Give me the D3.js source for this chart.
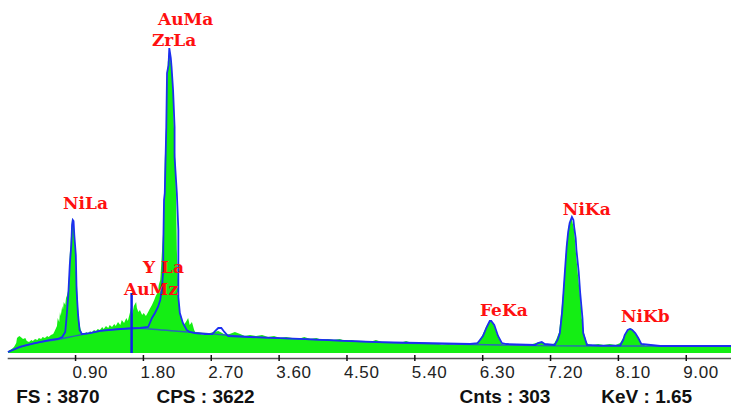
<!DOCTYPE html>
<html>
<head>
<meta charset="utf-8">
<script src="https://cdnjs.cloudflare.com/ajax/libs/d3/7.8.5/d3.min.js"></script>
<style>
  html, body { margin: 0; padding: 0; background: #fff; }
  svg { display: block; }
  .peak-label { font-family: "DejaVu Serif", serif; font-weight: bold; font-size: 17px; fill: #ff1010; white-space: pre; }
  .tick text { font-family: "Liberation Sans", Arial, sans-serif; font-size: 17px; fill: #222; letter-spacing: 0.6px; }
  .status { font-family: "Liberation Sans Narrow", "Liberation Sans", Arial, sans-serif; font-weight: bold; font-size: 19px; fill: #111; }
</style>
</head>
<body>
<svg id="eds" width="731" height="406"></svg>
<script>
/*** DATA ***/

// measured spectrum: energy (keV) and counts
let spec_kev = [0.01,0.02,0.06,0.09,0.12,0.13,0.16,0.18,0.21,0.24,0.26,0.29,0.32,0.34,0.37,0.40,0.42,0.45,0.47,0.50,
  0.53,0.55,0.58,0.61,0.63,0.66,0.67,0.69,0.70,0.71,0.73,0.74,0.75,0.77,0.78,0.79,0.81,0.82,0.83,0.85,
  0.86,0.87,0.89,0.90,0.91,0.93,0.94,0.95,0.97,0.99,1.02,1.05,1.07,1.10,1.12,1.15,1.18,1.20,1.23,1.26,
  1.28,1.31,1.34,1.36,1.39,1.42,1.44,1.47,1.50,1.52,1.55,1.58,1.60,1.63,1.64,1.66,1.68,1.71,1.72,1.74,
  1.76,1.79,1.81,1.84,1.87,1.89,1.92,1.95,1.97,2.00,2.01,2.03,2.04,2.05,2.07,2.08,2.09,2.11,2.12,2.13,
  2.15,2.16,2.17,2.19,2.20,2.21,2.23,2.24,2.25,2.27,2.28,2.29,2.32,2.34,2.37,2.40,2.42,2.45,2.48,2.50,
  2.56,2.62,2.69,2.74,2.80,2.85,2.90,2.95,3.02,3.09,3.15,3.22,3.30,3.38,3.46,3.54,3.62,3.70,3.78,3.86,
  3.94,4.02,4.10,4.18,4.25,4.33,4.41,4.49,4.57,4.65,4.73,4.81,4.89,4.97,5.05,5.13,5.21,5.29,5.37,5.45,
  5.53,5.61,5.69,5.77,5.85,5.93,6.01,6.09,6.16,6.22,6.27,6.31,6.35,6.38,6.40,6.43,6.46,6.48,6.51,6.54,
  6.56,6.62,6.70,6.77,6.85,6.93,7.01,7.07,7.12,7.17,7.22,7.26,7.29,7.32,7.34,7.37,7.40,7.42,7.45,7.48,
  7.49,7.52,7.54,7.57,7.60,7.62,7.65,7.68,7.70,7.76,7.84,7.91,7.99,8.07,8.13,8.17,8.21,8.25,8.27,8.30,
  8.34,8.38,8.42,8.47,8.55,8.66,8.79,8.92,9.06,9.19,9.32,9.45,9.60];
let spec_counts = [0,22,44,67,111,167,189,178,156,167,133,122,145,133,156,145,167,156,178,167,
  189,178,200,211,245,300,389,345,456,411,523,478,567,534,612,634,701,867,1090,1346,
  1501,1457,1346,1123,923,701,500,367,278,222,211,234,211,245,222,256,245,267,256,289,
  267,300,278,311,289,323,300,345,311,367,334,389,356,456,500,434,523,567,500,456,
  478,423,445,411,456,489,534,589,634,678,756,812,945,1090,1368,1701,2146,2591,2980,3236,
  3369,3347,3236,3091,2869,2535,2146,1701,1145,701,534,456,367,311,345,389,311,345,256,222,
  211,200,222,234,245,222,200,211,234,211,189,200,189,200,178,189,167,178,167,156,
  178,156,167,145,156,145,156,133,145,122,133,122,145,122,111,122,111,133,111,100,
  111,100,111,89,100,89,100,89,100,111,145,211,289,334,356,345,300,245,178,133,
  100,89,100,89,100,89,111,122,111,89,89,111,167,234,389,645,979,1223,1423,1490,
  1479,1368,1145,867,623,389,222,133,100,89,100,89,100,89,111,167,222,267,278,256,
  200,145,100,78,89,78,67,78,67,78,67,78,78];

// fitted spectrum (background + peaks)
let fit_kev = [0.01,0.17,0.37,0.57,0.67,0.73,0.77,0.79,0.81,0.83,0.85,0.86,0.87,0.88,0.89,0.91,0.92,0.94,0.96,0.99,
  1.10,1.23,1.50,1.76,1.87,1.92,1.96,2.00,2.03,2.05,2.07,2.07,2.08,2.09,2.11,2.12,2.14,2.15,2.17,2.18,
  2.20,2.22,2.22,2.25,2.27,2.27,2.29,2.33,2.38,2.42,2.49,2.62,2.72,2.76,2.80,2.84,2.88,2.93,3.22,3.88,
  4.55,4.94,5.47,6.14,6.24,6.31,6.36,6.40,6.42,6.46,6.51,6.56,6.62,7.00,7.04,7.09,7.13,7.26,7.30,7.33,
  7.36,7.38,7.40,7.42,7.44,7.46,7.49,7.51,7.52,7.54,7.55,7.58,7.60,7.63,7.64,7.69,7.86,8.13,8.17,8.19,
  8.23,8.26,8.29,8.33,8.37,8.41,8.66,9.60];
let fit_counts = [11,67,111,145,156,178,234,423,645,979,1201,1423,1479,1468,1312,1090,701,423,256,211,
  222,245,267,278,289,389,445,512,590,701,923,1179,1701,1779,2513,3113,3202,3391,3280,3180,
  2925,2513,2180,1779,1368,623,445,334,256,234,222,211,211,245,278,278,234,189,178,156,
  133,122,111,100,111,189,289,356,356,311,189,111,100,89,111,122,100,89,145,222,
  456,701,945,1179,1345,1446,1512,1479,1401,1279,1145,901,667,389,222,89,83,83,145,200,
  256,267,256,222,167,100,78,78];

// background curve
let bg_kev = [0.01,0.17,0.37,0.63,0.83,1.03,1.23,1.50,1.67,1.89,2.22,2.56,2.89,3.22,3.88,4.55,5.21,5.87,6.54,7.86,9.60];
let bg_counts = [11,67,111,145,178,211,245,267,278,267,245,222,200,178,156,133,111,100,89,78,78];

// cursor marker (KeV : 1.65)
let cursor_kev = 1.65,
    cursor_counts = 667;

// peak labels: name, energy and counts of the label anchor
let peak_names  = ["AuMa", "ZrLa", "NiLa", "Y La", "AuMz", "FeKa", "NiKa", "NiKb"];
let peak_kev    = [2.00, 1.92, 0.74, 1.80, 1.55, 6.27, 7.37, 8.14];
let peak_counts = [3647, 3414, 1601, 890, 645, 411, 1535, 345];

// axis ticks
let tick_values = [0.9, 1.8, 2.7, 3.6, 4.5, 5.4, 6.3, 7.2, 8.1, 9.0];

// status bar
let status_text = ["FS : 3870", "CPS : 3622", "Cnts : 303", "KeV : 1.65"];
let status_kev  = [0.12, 1.98, 6.0, 7.88];

/*** SCALES ***/

let svg = d3.select("#eds");

let x = d3.scaleLinear().domain([0, 9.6]).range([7.2, 731]),
    y = d3.scaleLinear().domain([0, 3870]).range([353, 5]);

let spec = spec_kev.map((k, i) => [k, spec_counts[i]]),
    fit  = fit_kev.map((k, i) => [k, fit_counts[i]]),
    bg   = bg_kev.map((k, i) => [k, bg_counts[i]]);

/*** DRAW ***/

// green spectrum
svg.append("path")
    .datum(spec)
    .attr("fill", "#14ee14")
    .attr("d", d3.area().x((d) => x(d[0])).y0(y(0)).y1((d) => y(d[1])));

// background
svg.append("path")
    .datum(bg)
    .attr("fill", "none")
    .attr("stroke", "#2a66b8")
    .attr("stroke-width", 1.4)
    .attr("d", d3.line().x((d) => x(d[0])).y((d) => y(d[1])).curve(d3.curveMonotoneX));

// fit line
svg.append("path")
    .datum(fit)
    .attr("fill", "none")
    .attr("stroke", "#1c2ff0")
    .attr("stroke-width", 1.8)
    .attr("d", d3.line().x((d) => x(d[0])).y((d) => y(d[1])));

// cursor
svg.append("line")
    .attr("x1", x(cursor_kev)).attr("x2", x(cursor_kev))
    .attr("y1", y(0)).attr("y2", y(cursor_counts))
    .attr("stroke", "#1020e8")
    .attr("stroke-width", 2.5);

// axis
let axis = svg.append("g")
    .attr("transform", "translate(0, 358)")
    .call(d3.axisBottom(x).tickValues(tick_values).tickFormat(d3.format(".2f")).tickSizeOuter(0));

axis.select(".domain").attr("stroke", "#555").attr("stroke-width", 1.5);
axis.selectAll(".tick line").attr("y1", -3).attr("y2", 3).attr("stroke", "#111").attr("stroke-width", 1.5);
axis.selectAll(".tick text")
    .attr("text-anchor", "start")
    .attr("x", -3)
    .attr("y", 20)
    .attr("dy", 0);

// peak labels
svg.selectAll("text.peak-label")
    .data(peak_names).enter()
    .append("text")
    .classed("peak-label", true)
    .attr("x", (d, i) => x(peak_kev[i]))
    .attr("y", (d, i) => y(peak_counts[i]))
    .text((d) => d);

// status line
svg.selectAll("text.status")
    .data(status_text).enter()
    .append("text")
    .classed("status", true)
    .attr("x", (d, i) => x(status_kev[i]))
    .attr("y", 403)
    .text((d) => d);
</script>
</body>
</html>
